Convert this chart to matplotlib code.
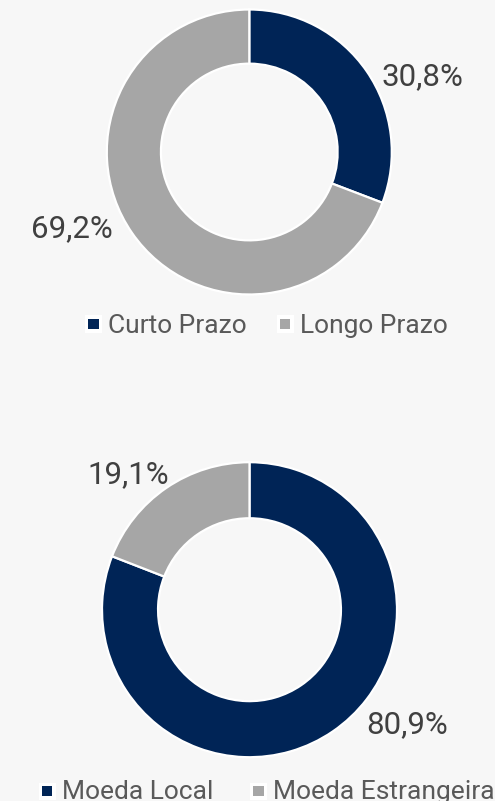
import matplotlib
matplotlib.use("Agg")
import matplotlib.pyplot as plt
from matplotlib.patches import Rectangle

# ---- data ----
prazo_labels = ["Curto Prazo", "Longo Prazo"]
prazo_values = [30.8, 69.2]
moeda_labels = ["Moeda Local", "Moeda Estrangeira"]
moeda_values = [80.9, 19.1]
colors = ["#002456", "#A6A6A6"]

# ---- layout (pixels) ----
W, H = 495, 801
BG = "#F7F7F7"
plt.rcParams["font.family"] = ["Roboto", "DejaVu Sans"]

fig = plt.figure(figsize=(W / 100, H / 100), dpi=100)
fig.patch.set_facecolor(BG)


def donut(cx, cy, R, values, label_pos):
    k = 1.6
    ax = fig.add_axes([(cx - k * R) / W, 1 - (cy + k * R) / H, 2 * k * R / W, 2 * k * R / H])
    ax.set_facecolor("none")
    wedges, _ = ax.pie(values, colors=colors, startangle=90, counterclock=False,
                       radius=1.0,
                       wedgeprops=dict(width=0.38, edgecolor="white", linewidth=1.6))
    ax.set_xlim(-k, k)
    ax.set_ylim(-k, k)
    ax.set_aspect("equal")
    ax.axis("off")
    for v, (lx, ly) in zip(values, label_pos):
        ax.text(lx, ly, f"{v:.1f}".replace(".", ",") + "%", ha="center", va="baseline",
                fontsize=22.5, color="#404040")
    return ax


donut(249.3, 152, 142.5, prazo_values, [(1.215, 0.470), (-1.244, -0.596)])
donut(249.5, 609.7, 147.5, moeda_values, [(1.071, -0.836), (-0.824, 0.859)])

fig.canvas.draw()
renderer = fig.canvas.get_renderer()


def legend(x0, yc, baseline, labels, gap):
    x = x0
    for lab, col in zip(labels, colors):
        # white box + coloured square
        fig.add_artist(Rectangle((x / W, 1 - (yc + 8.5) / H), 17 / W, 17 / H,
                                 transform=fig.transFigure, facecolor="white",
                                 edgecolor="none"))
        fig.add_artist(Rectangle(((x + 3.2) / W, 1 - (yc + 5.2) / H), 10.5 / W, 10.5 / H,
                                 transform=fig.transFigure, facecolor=col,
                                 edgecolor="none"))
        t = fig.text((x + 23) / W, 1 - baseline / H, lab, ha="left", va="baseline",
                     fontsize=19, color="#595959")
        bb = t.get_window_extent(renderer)
        x = bb.x1 + gap


legend(85, 324, 333, prazo_labels, 30)
legend(38.5, 791, 799, moeda_labels, 37)

fig.savefig("out.png", dpi=100, facecolor=BG)
